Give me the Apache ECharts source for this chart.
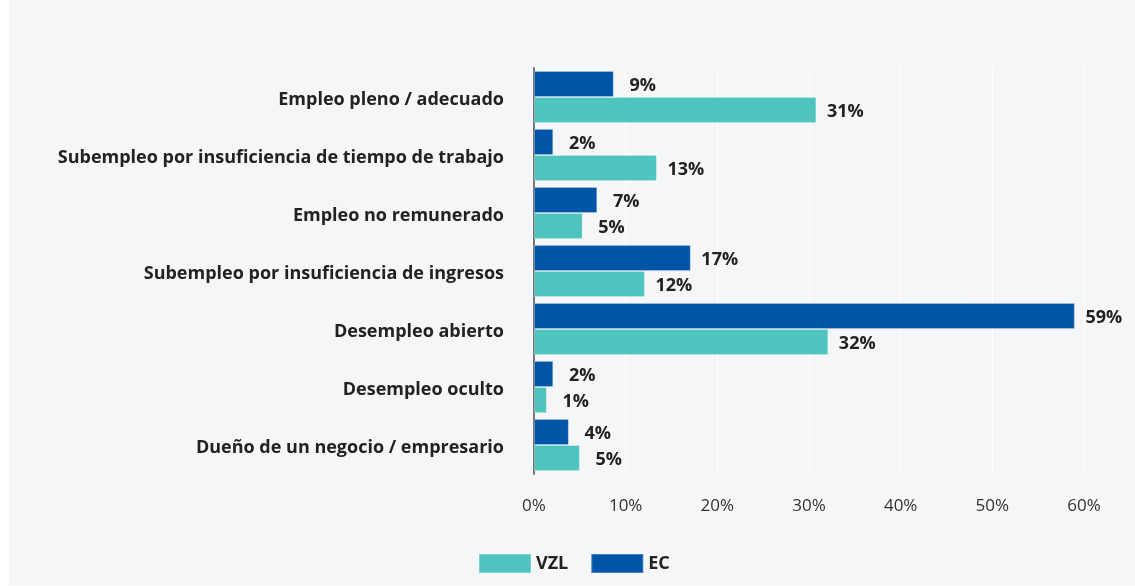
<!DOCTYPE html>
<html>
<head>
<meta charset="utf-8">
<script src="https://cdn.jsdelivr.net/npm/echarts@6/dist/echarts.min.js"></script>
<style>
  html, body { margin: 0; padding: 0; background: #fff; }
  #main { position: absolute; left: 9px; top: 0; width: 1126px; height: 585px; }
</style>
</head>
<body>
<div id="main"></div>
<script>
// categorias (de arriba hacia abajo)
const categories = [
  'Empleo pleno / adecuado',
  'Subempleo por insuficiencia de tiempo de trabajo',
  'Empleo no remunerado',
  'Subempleo por insuficiencia de ingresos',
  'Desempleo abierto',
  'Desempleo oculto',
  'Dueño de un negocio / empresario'
]
// valores (%)
const ecValues = [8.7, 2.1, 6.9, 17.1, 59.0, 2.1, 3.8]
const vzlValues = [30.8, 13.4, 5.3, 12.1, 32.1, 1.4, 5.0]
const xTicks = [0, 10, 20, 30, 40, 50, 60]

const FONT = 'Open Sans'

var chartObj = echarts.init(document.getElementById('main'))

const valueLabel = {
  show: true,
  position: 'right',
  distance: 29,
  align: 'center',
  offset: [0, 2],
  fontFamily: FONT,
  fontWeight: 'bold',
  fontSize: 18,
  color: '#222',
  formatter: p => Math.round(p.value) + '%'
}

var option = {
  backgroundColor: '#f5f6f8',
  animation: false,
  legend: {
    data: ['VZL', 'EC'],
    left: 464,
    top: 548,
    itemWidth: 52,
    itemHeight: 19,
    itemGap: 22,
    icon: 'rect',
    textStyle: {
      fontFamily: FONT,
      fontWeight: 'bold',
      fontSize: 18,
      color: '#222'
    }
  },
  grid: {
    left: 525,
    right: 51,
    top: 68,
    height: 406,
    containLabel: false
  },
  xAxis: {
    type: 'value',
    min: xTicks[0],
    max: xTicks[xTicks.length - 1],
    interval: 10,
    axisLine: { show: false },
    axisTick: { show: false },
    axisLabel: {
      margin: 24,
      fontFamily: FONT,
      fontSize: 17,
      color: '#333',
      formatter: '{value}%'
    },
    splitLine: {
      show: true,
      lineStyle: { color: '#ffffff', width: 1 }
    }
  },
  yAxis: {
    type: 'category',
    data: categories,
    inverse: true,
    axisTick: { show: false },
    axisLine: {
      show: true,
      lineStyle: { color: '#777', width: 2 }
    },
    axisLabel: {
      margin: 30,
      formatter: v => '{c|' + v + '}',
      rich: {
        c: {
          fontFamily: FONT,
          fontWeight: 'bold',
          fontSize: 18,
          color: '#222',
          padding: [6, 0, 0, 0]
        }
      }
    }
  },
  series: [
    {
      name: 'EC',
      type: 'bar',
      data: ecValues,
      barGap: '0%',
      barCategoryGap: '10%',
      itemStyle: { color: '#0055a6', borderColor: 'rgba(255,255,255,0.25)', borderWidth: 1 },
      label: valueLabel
    },
    {
      name: 'VZL',
      type: 'bar',
      data: vzlValues,
      barGap: '0%',
      barCategoryGap: '10%',
      itemStyle: { color: '#4fc3bd', borderColor: 'rgba(255,255,255,0.25)', borderWidth: 1 },
      label: valueLabel
    }
  ]
}

chartObj.setOption(option, true)
</script>
</body>
</html>
